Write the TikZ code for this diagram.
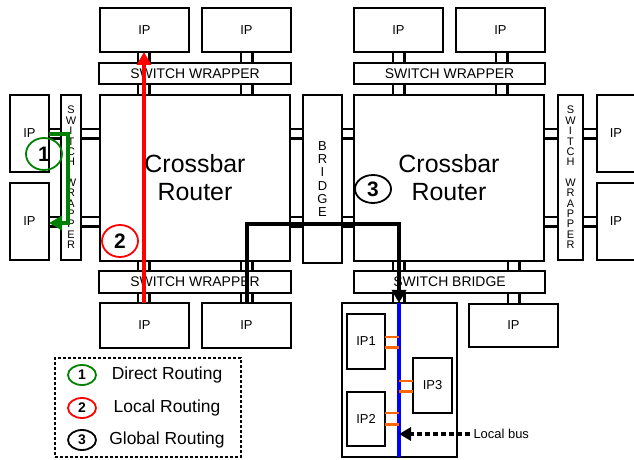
\documentclass[tikz,border=0pt]{standalone}
\usepackage{fontspec}
\setmainfont{Liberation Sans}
\usepackage{tikz}
\usetikzlibrary{shapes.geometric, arrows.meta}
\definecolor{busorange}{RGB}{255,102,0}
\definecolor{dgreen}{RGB}{0,128,0}
\tikzstyle{box}   = [rectangle, draw=black, line width=1.8bp, inner sep=0pt,
                     outer sep=0pt, anchor=north west, text centered,
                     font=\fontsize{13}{15}\selectfont]
\tikzstyle{wrap}  = [box, font=\fontsize{14}{15}\selectfont]
\tikzstyle{vwrap} = [box, align=center, font=\fontsize{11}{10.4}\selectfont]
\tikzstyle{xbar}  = [box, align=center, font=\fontsize{25}{28}\selectfont]
\tikzstyle{lnk}   = [line width=1.4bp]
\tikzstyle{lnkb}  = [line width=3bp]
\tikzstyle{route} = [line width=3.4bp, -{Triangle[length=13bp, width=14bp]}]
\tikzstyle{tag}   = [ellipse, draw, line width=1.8bp, inner sep=0pt,
                     minimum width=36bp, minimum height=32bp,
                     font=\fontsize{21}{21}\selectfont\bfseries]
\tikzstyle{ltag}  = [tag, minimum width=28bp, minimum height=20bp,
                     font=\fontsize{14}{14}\selectfont\bfseries]
\tikzset{wh/.style 2 args={minimum width=#1bp, minimum height=#2bp}}

\begin{document}
\begin{tikzpicture}[x=1bp, y=-1bp, font=\fontsize{13}{15}\selectfont]
  \useasboundingbox (0,0) rectangle (634,460);
  \clip (0,0) rectangle (634,460);

  % left crossbar and its wrappers
  \node[box, wh={89}{44}] (ipT1) at (100,8) {IP};
  \node[box, wh={89}{44}] (ipT2) at (202,8) {IP};
  \node[wrap, wh={192}{21}] (swT1) at (99,63) {SWITCH WRAPPER};
  \node[xbar, wh={190}{166}] (xbar1) at (100,95) {Crossbar\\Router};
  \node[wrap, wh={192}{22}] (swB1) at (99,271) {SWITCH WRAPPER};
  \node[box, wh={89}{45}] (ipB1) at (100,303) {IP};
  \node[box, wh={89}{45}] (ipB2) at (202,303) {IP};
  \node[box, wh={39}{77}] (ipL1) at (10,95) {IP};
  \node[box, wh={39}{77}] (ipL2) at (10,183) {IP};
  \node[vwrap, wh={20}{165}] (swL) at (61,95)
    {S\\W\\I\\T\\C\\H\\[10.4bp]W\\R\\A\\P\\P\\E\\R};

  \node[box, align=center, wh={39}{168}, font=\fontsize{13}{13.3}\selectfont]
    (bridge) at (303,95) {B\\R\\I\\D\\G\\E};

  % right crossbar and its wrappers
  \node[box, wh={89}{44}] (ipT3) at (354,8) {IP};
  \node[box, wh={89}{44}] (ipT4) at (456,8) {IP};
  \node[wrap, wh={191}{21}] (swT2) at (354,63) {SWITCH WRAPPER};
  \node[xbar, wh={190}{166}] (xbar2) at (354,95) {Crossbar\\Router};
  \node[wrap, wh={191}{22}] (swBr) at (354,271) {SWITCH BRIDGE};
  \node[box, wh={89}{43}] (ipB4) at (469,304) {IP};
  \node[vwrap, wh={25}{165}] (swR) at (558,95)
    {S\\W\\I\\T\\C\\H\\[10.4bp]W\\R\\A\\P\\P\\E\\R};
  \node[box, wh={38}{77}] (ipR1) at (597,95) {IP};
  \node[box, wh={38}{77}] (ipR2) at (597,183) {IP};

  % local bus module
  \node[box, wh={115}{154}] (loc) at (342,303) {};
  \node[box, wh={38}{55}] (ip1) at (347,314) {IP1};
  \node[box, wh={39}{55}] (ip3) at (413,358) {IP3};
  \node[box, wh={38}{54}] (ip2) at (347,392) {IP2};
  \coordinate (busT) at (loc.north -| 399,0);
  \coordinate (busB) at (loc.south -| 399,0);

  % vertical links
  \foreach \a/\b/\x [evaluate=\x as \xx using \x+11] in
    {ipT1/swT1/138, ipT2/swT1/241, swT1/xbar1/138, swT1/xbar1/241,
     xbar1/swB1/138, xbar1/swB1/241, swB1/ipB1/138, swB1/ipB2/241,
     ipT3/swT2/393, ipT4/swT2/496, swT2/xbar2/393, swT2/xbar2/496,
     xbar2/swBr/393, xbar2/swBr/508, swBr/loc/393, swBr/ipB4/508} {
    \draw[lnk]  (\a.south -| \x,0)  -- (\b.north -| \x,0);
    \draw[lnkb] (\a.south -| \xx,0) -- (\b.north -| \xx,0);
  }
  % horizontal links
  \foreach \a/\b/\y [evaluate=\y as \yy using \y+10] in
    {ipL1/swL/129, swL/xbar1/129, swL/xbar1/217, ipL2/swL/217,
     xbar1/bridge/129, xbar1/bridge/217, bridge/xbar2/129, bridge/xbar2/217,
     xbar2/swR/129, xbar2/swR/217, swR/ipR1/129, swR/ipR2/217} {
    \draw[lnk]  (\a.east |- 0,\y)  -- (\b.west |- 0,\y);
    \draw[lnkb] (\a.east |- 0,\yy) -- (\b.west |- 0,\yy);
  }

  % bus and its taps
  \draw[blue, line width=3.4bp] (busT) -- (busB);
  \draw[lnk, busorange]  (ip1.east |- 0,337) -- (busT |- 0,337);
  \draw[lnkb, busorange] (ip1.east |- 0,347) -- (busT |- 0,347);
  \draw[lnk, busorange]  (busT |- 0,381) -- (ip3.west |- 0,381);
  \draw[lnkb, busorange] (busT |- 0,391) -- (ip3.west |- 0,391);
  \draw[lnk, busorange]  (ip2.east |- 0,413) -- (busT |- 0,413);
  \draw[lnkb, busorange] (ip2.east |- 0,424) -- (busT |- 0,424);
  \node[anchor=west] (busl) at (470,434) {Local bus};
  \draw[line width=3.4bp, dash pattern=on 5bp off 3bp,
        -{Triangle[length=12bp, width=13bp]}]
    (busl.west) -- (busT |- busl.west);

  % routes
  \draw[route, dgreen] (ipL1.east |- 0,134) -- (68,134) -- (68,223)
    -- (ipL2.east |- 0,223);
  \draw[route, red] (ipB1.north -| 144,0) -- (ipT1.south -| 144,0);
  \draw[route] (ipB2.north -| 247,0) -- (247,224) -- (busT |- 0,224)
    -- (busT);

  \node[tag, draw=dgreen] (c1) at (44,154) {1};
  \node[tag, draw=red] (c2) at (120,241) {2};
  \node[tag, minimum height=28bp] (c3) at (373,189) {3};

  % legend
  \node[box, wh={186}{99}, line width=2bp, dash pattern=on 3bp off 2bp]
    (legend) at (55,358) {};
  \node[ltag, draw=dgreen] (l1) at (82,375) {1};
  \node[ltag, draw=red] (l2) at (82,408) {2};
  \node[ltag] (l3) at (82,440) {3};
  \node[font=\fontsize{17.5}{19}\selectfont] (t1) at (167,375) {Direct Routing};
  \node[font=\fontsize{17.5}{19}\selectfont] (t2) at (167,408) {Local Routing};
  \node[font=\fontsize{17.5}{19}\selectfont] (t3) at (167,440) {Global Routing};
\end{tikzpicture}
\end{document}
